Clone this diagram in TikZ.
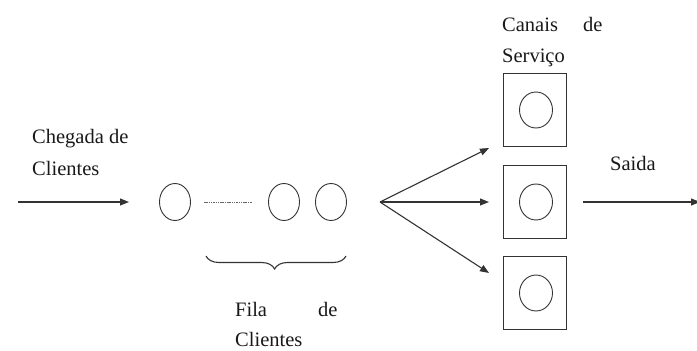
\documentclass[tikz,border=0pt]{standalone}
\usepackage{fontspec}
\setmainfont{Liberation Serif}
\usetikzlibrary{shapes.geometric,arrows.meta,decorations.pathreplacing}
\begin{document}
\begin{tikzpicture}[x=1pt,y=-1pt,
  ink/.style={draw=black!80},
  cust/.style={ellipse,ink,line width=0.9pt,minimum width=31pt,minimum height=37pt,inner sep=0pt},
  chan/.style={rectangle,ink,line width=1.6pt,minimum width=63pt,minimum height=73pt,inner sep=0pt},
  lbl/.style={anchor=base west,inner sep=0pt,text=black!90,font=\fontsize{20.5}{24}\selectfont},
  arr/.style={ink,line width=1.1pt,-{Triangle[length=9pt,width=7pt]}}]
\useasboundingbox (0,0) rectangle (697,351);
% arrival
\coordinate (in) at (18,202);
\coordinate (q0) at (129,202);
\draw[arr] (in) -- (q0);
\node[lbl] (ch1) at (32,143) {Chegada de};
\node[lbl] (ch2) at (32,175) {Clientes};
% queue
\node[cust] (c1) at (175,202) {};
\node[cust] (c2) at (284,202) {};
\node[cust] (c3) at (331,202) {};
\coordinate (d1) at (204,202);
\coordinate (d2) at (252,202);
\draw[draw=black!60,line width=1pt,dash pattern=on 1.5pt off 0.8pt] (d1) -- (d2);
\coordinate (b1) at (206,256);
\coordinate (b2) at (346,256);
\draw[ink,line width=1.1pt,decorate,decoration={brace,mirror,amplitude=13pt,aspect=0.49}] (b1) -- (b2);
\node[lbl] (f1) at (235,316) {Fila};
\node[lbl] (f2) at (318,316) {de};
\node[lbl] (f3) at (235,346) {Clientes};
% fan
\coordinate (fan) at (380,202);
\coordinate (t1) at (489,148);
\coordinate (t2) at (489,202);
\coordinate (t3) at (489,273);
\draw[arr] (fan) -- (t1);
\draw[arr] (fan) -- (t2);
\draw[arr] (fan) -- (t3);
% channels
\node[chan] (s1) at (535,110) {};
\node[chan] (s2) at (535,202) {};
\node[chan] (s3) at (535,293) {};
\node[cust,minimum width=33pt,minimum height=36pt] (e1) at (536,110) {};
\node[cust,minimum width=33pt,minimum height=36pt] (e2) at (536,202) {};
\node[cust,minimum width=33pt,minimum height=36pt] (e3) at (536,293) {};
\node[lbl] (k1) at (502,31) {Canais};
\node[lbl] (k2) at (583,31) {de};
\node[lbl] (k3) at (502,62) {Serviço};
% exit
\node[lbl] (sa) at (610,170) {Saida};
\coordinate (o1) at (583,202);
\coordinate (o2) at (700,202);
\draw[arr] (o1) -- (o2);
\end{tikzpicture}
\end{document}
